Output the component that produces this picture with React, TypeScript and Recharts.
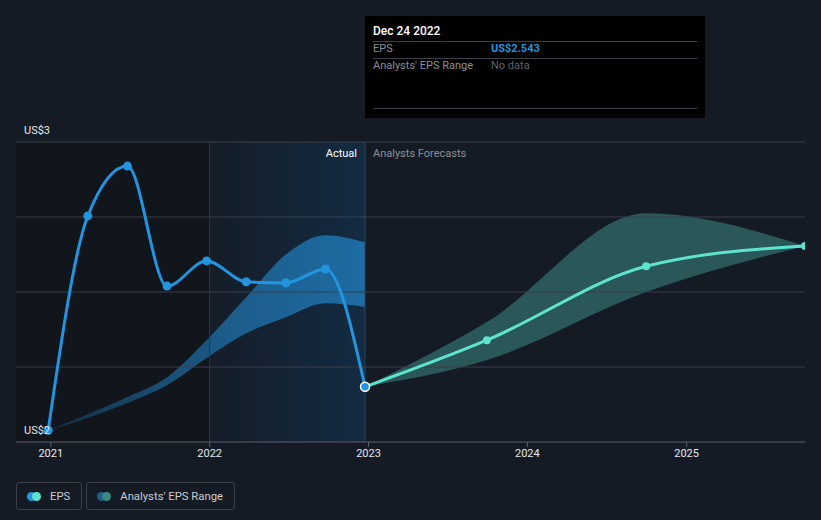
import React from "react";
import {
  ComposedChart,
  Line,
  Area,
  XAxis,
  YAxis,
  ReferenceArea,
  ReferenceLine,
} from "recharts";

const d = (y: number, m: number, day: number) => Date.UTC(y, m - 1, day);

// actual EPS (US$)
const actualDates = [
  d(2020, 12, 26), d(2021, 3, 27), d(2021, 6, 26), d(2021, 9, 25), d(2021, 12, 25),
  d(2022, 3, 26), d(2022, 6, 25), d(2022, 9, 24), d(2022, 12, 24),
];
const actualEps = [2.462, 2.862, 2.955, 2.731, 2.778, 2.739, 2.737, 2.763, 2.543];

// past analyst range
const pastLow = [2.462, 2.485, 2.513, 2.546, 2.597, 2.643, 2.673, 2.699, 2.692];
const pastHigh = [2.462, 2.492, 2.524, 2.561, 2.63, 2.71, 2.79, 2.826, 2.813];

// forecasts
const forecastDates = [d(2022, 12, 24), d(2023, 9, 30), d(2024, 9, 30), d(2025, 9, 30)];
const forecastEps = [2.543, 2.63, 2.768, 2.806];
const forecastLow = [2.543, 2.593, 2.72, 2.806];
const forecastHigh = [2.543, 2.664, 2.867, 2.806];

const yearTicks = [d(2021, 1, 1), d(2022, 1, 1), d(2023, 1, 1), d(2024, 1, 1), d(2025, 1, 1)];
const gridValues = [2.58, 2.72, 2.86, 3.0];
const yLabelValues = [2.44, 3.0];
const yLabelText: Record<string, string> = { "2.44": "US$2", "3": "US$3" };
const xDomain = [d(2020, 10, 13), d(2025, 9, 30)];
const yDomain = [2.44, 3.0];
const todayDate = d(2022, 12, 24);

const actualData = actualDates.map((t, i) => ({ t, eps: actualEps[i], range: [pastLow[i], pastHigh[i]] }));
const forecastData = forecastDates.map((t, i) => ({ t, eps: forecastEps[i], range: [forecastLow[i], forecastHigh[i]] }));

const FONT = "Roboto, 'Noto Sans', sans-serif";
const BLUE = "#2394df";
const TEAL = "#5ee3cd";

function LegendItem({ label, c1, c2 }: { label: string; c1: string; c2: string }) {
  return (
    <div
      style={{
        display: "flex",
        alignItems: "center",
        height: 26,
        padding: "0 11px 0 10px",
        border: "1px solid #3a3f48",
        borderRadius: 3,
        color: "#c9ccd1",
        fontSize: 11.3,
        marginRight: 4,
      }}
    >
      <span style={{ position: "relative", width: 14, height: 9, marginRight: 9 }}>
        <span style={{ position: "absolute", left: 0, width: 9, height: 9, borderRadius: 5, background: c1 }} />
        <span style={{ position: "absolute", left: 5, width: 9, height: 9, borderRadius: 5, background: c2 }} />
      </span>
      {label}
    </div>
  );
}

function YTick(p: any) {
  return (
    <text x={24} y={p.y - 8} fill="#e6e8eb" fontSize={11} fontFamily={FONT} textAnchor="start">
      {yLabelText[String(p.payload.value)]}
    </text>
  );
}

export default function App() {
  return (
    <div style={{ position: "relative", width: 821, height: 520, background: "#151b25", fontFamily: FONT, overflow: "hidden" }}>
      <style>{`body{margin:0}`}</style>
      <ComposedChart width={821} height={520} margin={{ top: 142, right: 16, left: 16, bottom: 48 }}>
        <defs>
          <linearGradient id="actualBg" x1="0" y1="0" x2="1" y2="0">
            <stop offset="0%" stopColor="#151d28" />
            <stop offset="100%" stopColor="#132b42" />
          </linearGradient>
          <linearGradient id="pastBand" x1="0" y1="0" x2="1" y2="0">
            <stop offset="0%" stopColor={BLUE} stopOpacity={0.2} />
            <stop offset="45%" stopColor={BLUE} stopOpacity={0.5} />
            <stop offset="100%" stopColor={BLUE} stopOpacity={0.62} />
          </linearGradient>
        </defs>
        <XAxis
          dataKey="t"
          type="number"
          scale="time"
          domain={xDomain}
          ticks={yearTicks}
          tickFormatter={(v) => String(new Date(v).getUTCFullYear())}
          height={30}
          stroke="#5a5f68"
          tick={{ fill: "#e6e8eb", fontSize: 11 }}
          tickSize={5}
          allowDataOverflow
        />
        <ReferenceArea x1={xDomain[0]} x2={yearTicks[1]} y1={yDomain[0]} y2={yDomain[1]} fill="#11151c" fillOpacity={1} stroke="none" />
        <ReferenceArea x1={yearTicks[1]} x2={todayDate} y1={yDomain[0]} y2={yDomain[1]} fill="url(#actualBg)" fillOpacity={1} stroke="none" />
        {gridValues.map((v) => (
          <ReferenceLine key={v} y={v} stroke="#3a3f48" strokeWidth={1} />
        ))}
        <ReferenceLine x={yearTicks[1]} stroke="#1d3a55" strokeWidth={1} />
        <ReferenceLine x={todayDate} stroke="#2a4560" strokeWidth={1} />
        <YAxis
          type="number"
          domain={yDomain}
          ticks={yLabelValues}
          mirror
          axisLine={false}
          tickLine={false}
          tick={<YTick />}
          allowDataOverflow
        />
        <Area
          data={actualData}
          dataKey="range"
          type="monotone"
          fill="url(#pastBand)"
          fillOpacity={1}
          stroke="none"
          isAnimationActive={false}
        />
        <Area
          data={forecastData}
          dataKey="range"
          type="monotone"
          fill={TEAL}
          fillOpacity={0.3}
          stroke="none"
          isAnimationActive={false}
        />
        <Line
          data={forecastData}
          dataKey="eps"
          type="monotone"
          stroke={TEAL}
          strokeWidth={3}
          dot={{ r: 4, fill: TEAL, stroke: "none" }}
          isAnimationActive={false}
        />
        <Line
          data={actualData}
          dataKey="eps"
          type="monotone"
          stroke={BLUE}
          strokeWidth={3}
          dot={(p: any) =>
            p.index === actualData.length - 1 ? (
              <circle key={p.index} cx={p.cx} cy={p.cy} r={4.5} fill={BLUE} stroke="#ffffff" strokeWidth={1.5} />
            ) : (
              <circle key={p.index} cx={p.cx} cy={p.cy} r={4.5} fill={BLUE} stroke="none" />
            )
          }
          isAnimationActive={false}
        />
      </ComposedChart>

      {/* section labels */}
      <div style={{ position: "absolute", right: 821 - 357, top: 147, color: "#ffffff", fontSize: 11 }}>Actual</div>
      <div style={{ position: "absolute", left: 373, top: 147, color: "#8a8f96", fontSize: 11 }}>Analysts Forecasts</div>

      {/* tooltip */}
      <div style={{ position: "absolute", left: 365, top: 16, width: 340, height: 102, background: "#000000", fontSize: 11 }}>
        <div style={{ position: "absolute", left: 8, top: 8, color: "#ffffff", fontWeight: 500, fontSize: 12 }}>Dec 24 2022</div>
        <div style={{ position: "absolute", left: 8, right: 8, top: 25, borderTop: "1px solid #3a3f48" }} />
        <div style={{ position: "absolute", left: 8, top: 26, color: "#8a8f96" }}>EPS</div>
        <div style={{ position: "absolute", left: 126, top: 26, color: BLUE, fontWeight: 700 }}>US$2.543</div>
        <div style={{ position: "absolute", left: 8, right: 8, top: 42, borderTop: "1px solid #3a3f48" }} />
        <div style={{ position: "absolute", left: 8, top: 43, color: "#8a8f96" }}>Analysts' EPS Range</div>
        <div style={{ position: "absolute", left: 126, top: 43, color: "#5f646b" }}>No data</div>
        <div style={{ position: "absolute", left: 8, right: 8, top: 92, borderTop: "1px solid #3a3f48" }} />
      </div>

      {/* legend */}
      <div style={{ position: "absolute", left: 16, top: 482, display: "flex" }}>
        <LegendItem label="EPS" c1={BLUE} c2={TEAL} />
        <LegendItem label="Analysts' EPS Range" c1="#1f5f8f" c2="#3a8a80" />
      </div>
    </div>
  );
}
